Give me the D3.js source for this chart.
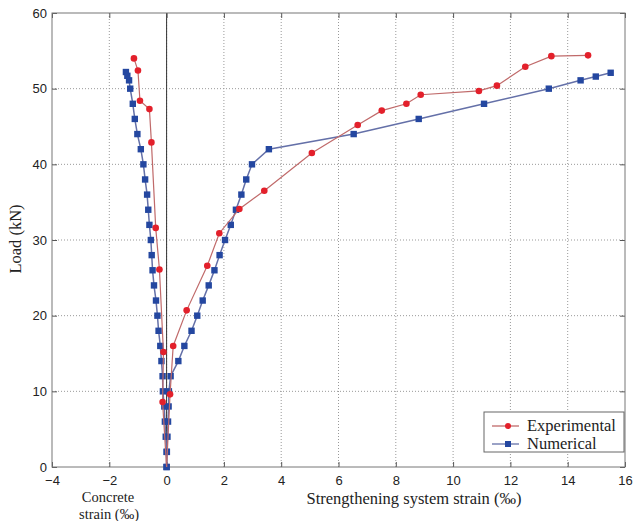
<!DOCTYPE html>
<meta charset="utf-8">
<style>
  body { margin: 0; background: #fff; }
  .tick text { font-family: "Liberation Sans", Arial, sans-serif; font-size: 13px; fill: #222; }
  .ttl { font-family: "Liberation Serif", "Times New Roman", serif; font-size: 16.5px; fill: #222; }
</style>
<body>
  <svg width="636" height="521"></svg>
</body>
<script src="https://cdnjs.cloudflare.com/ajax/libs/d3/7.8.5/d3.min.js"></script>
<script>

  // data: [strain (‰), load (kN)]
  var expConcrete = [[0, 0], [-0.14, 8.6], [-0.11, 15.2], [-0.25, 26.1], [-0.38, 31.6], [-0.53, 42.9],
                     [-0.60, 47.3], [-0.93, 48.4], [-1.0, 52.4], [-1.14, 54.0]];
  var expSystem = [[0, 0], [0.12, 9.6], [0.23, 16.0], [0.70, 20.7], [1.42, 26.6], [1.84, 30.9], [2.54, 34.1],
                   [3.41, 36.5], [5.07, 41.5], [6.67, 45.2], [7.51, 47.1], [8.37, 48.0], [8.87, 49.2],
                   [10.90, 49.7], [11.53, 50.4], [12.52, 52.9], [13.43, 54.3], [14.71, 54.4]];
  var numConcrete = [[0, 0], [0, 2], [-0.03, 4], [-0.06, 6], [-0.08, 8], [-0.13, 10], [-0.14, 12], [-0.18, 14],
                     [-0.22, 16], [-0.28, 18], [-0.32, 20], [-0.37, 22], [-0.44, 24], [-0.49, 26], [-0.52, 28],
                     [-0.55, 30], [-0.60, 32], [-0.64, 34], [-0.68, 36], [-0.75, 38], [-0.81, 40], [-0.90, 42],
                     [-1.02, 44], [-1.11, 46], [-1.18, 48], [-1.27, 50], [-1.31, 51.1], [-1.37, 51.7], [-1.42, 52.2]];
  var numSystem = [[0, 0], [0.01, 2], [0.03, 4], [0.05, 6], [0.07, 8], [0.08, 10], [0.14, 12], [0.41, 14],
                   [0.62, 16], [0.87, 18], [1.07, 20], [1.26, 22], [1.47, 24], [1.67, 26], [1.85, 28], [2.04, 30],
                   [2.24, 32], [2.42, 34], [2.61, 36], [2.78, 38], [2.98, 40], [3.57, 42], [6.53, 44], [8.80, 46],
                   [11.08, 48], [13.34, 50], [14.45, 51.1], [14.98, 51.6], [15.50, 52.1]];
  var xTicks = [-4, -2, 0, 2, 4, 6, 8, 10, 12, 14, 16];
  var yTicks = [0, 10, 20, 30, 40, 50, 60];
  var legendNames = ["Experimental", "Numerical"];

  var svg = d3.select("svg");
  var m = { left: 52, right: 625, top: 13, bottom: 467 };

  var x = d3.scaleLinear().domain([-4, 16]).range([m.left, m.right]);
  var y = d3.scaleLinear().domain([0, 60]).range([m.bottom, m.top]);

  var redLine = "#c06a6a", redDot = "#e3202b";
  var blueLine = "#6470a8", blueDot = "#2447a0";

  // grid
  var grid = svg.append("g").attr("stroke", "#999").attr("stroke-dasharray", "1,2").attr("stroke-width", 1);
  xTicks.slice(1, -1).forEach(function (t) {
    grid.append("line").attr("x1", x(t)).attr("x2", x(t)).attr("y1", m.top).attr("y2", m.bottom);
  });
  yTicks.slice(1, -1).forEach(function (t) {
    grid.append("line").attr("x1", m.left).attr("x2", m.right).attr("y1", y(t)).attr("y2", y(t));
  });

  // zero line
  svg.append("line").attr("x1", x(0)).attr("x2", x(0)).attr("y1", m.top).attr("y2", m.bottom)
    .attr("stroke", "#333").attr("stroke-width", 1);

  // axes
  svg.append("g").attr("transform", "translate(0," + m.bottom + ")")
    .call(d3.axisBottom(x).tickValues(xTicks).tickSizeInner(-5).tickSizeOuter(0).tickPadding(9));
  svg.append("g").attr("transform", "translate(" + m.left + ",0)")
    .call(d3.axisLeft(y).tickValues(yTicks).tickSizeInner(-5).tickSizeOuter(0).tickPadding(5));
  svg.append("g").attr("transform", "translate(0," + m.top + ")")
    .call(d3.axisTop(x).tickValues(xTicks).tickSizeInner(-5).tickSizeOuter(0).tickFormat(""));
  svg.append("g").attr("transform", "translate(" + m.right + ",0)")
    .call(d3.axisRight(y).tickValues(yTicks).tickSizeInner(-5).tickSizeOuter(0).tickFormat(""));
  svg.selectAll(".domain").remove();
  svg.selectAll(".tick line").attr("stroke", "#555");

  svg.append("rect").attr("x", m.left).attr("y", m.top)
    .attr("width", m.right - m.left).attr("height", m.bottom - m.top)
    .attr("fill", "none").attr("stroke", "#777").attr("stroke-width", 1);

  var line = d3.line().x(function (d) { return x(d[0]); }).y(function (d) { return y(d[1]); });

  function drawExp(data) {
    svg.append("path").datum(data).attr("d", line).attr("fill", "none")
      .attr("stroke", redLine).attr("stroke-width", 1.2);
    svg.append("g").selectAll("circle").data(data.slice(1)).enter().append("circle")
      .attr("cx", function (d) { return x(d[0]); }).attr("cy", function (d) { return y(d[1]); })
      .attr("r", 3.3).attr("fill", redDot);
  }
  function drawNum(data) {
    svg.append("path").datum(data).attr("d", line).attr("fill", "none")
      .attr("stroke", blueLine).attr("stroke-width", 1.5);
    svg.append("g").selectAll("rect").data(data).enter().append("rect")
      .attr("x", function (d) { return x(d[0]) - 3.2; }).attr("y", function (d) { return y(d[1]) - 3.2; })
      .attr("width", 6.4).attr("height", 6.4).attr("fill", blueDot);
  }
  drawNum(numConcrete);
  drawNum(numSystem);
  drawExp(expConcrete);
  drawExp(expSystem);

  // titles
  svg.append("text").attr("class", "ttl").attr("transform", "translate(21,239) rotate(-90)")
    .attr("text-anchor", "middle").text("Load (kN)");
  svg.append("text").attr("class", "ttl").style("font-size", "14.5px")
    .attr("x", 108).attr("y", 502).attr("text-anchor", "middle").text("Concrete");
  svg.append("text").attr("class", "ttl").style("font-size", "14.5px")
    .attr("x", 109).attr("y", 519).attr("text-anchor", "middle").text("strain (‰)");
  svg.append("text").attr("class", "ttl").attr("x", 414).attr("y", 504).attr("text-anchor", "middle")
    .text("Strengthening system strain (‰)");

  // legend
  var lg = svg.append("g").attr("transform", "translate(484,412)");
  lg.append("rect").attr("width", 140).attr("height", 40).attr("fill", "#fff").attr("stroke", "#666");
  legendNames.forEach(function (name, i) {
    var ly = 14 + i * 18;
    lg.append("line").attr("x1", 8).attr("x2", 35).attr("y1", ly).attr("y2", ly)
      .attr("stroke", i ? blueLine : redLine).attr("stroke-width", 1.3);
    if (i) lg.append("rect").attr("x", 21).attr("y", ly - 3).attr("width", 6).attr("height", 6).attr("fill", blueDot);
    else lg.append("circle").attr("cx", 24).attr("cy", ly).attr("r", 3).attr("fill", redDot);
    lg.append("text").attr("class", "ttl").attr("x", 43).attr("y", ly + 5).text(name);
  });

</script>
